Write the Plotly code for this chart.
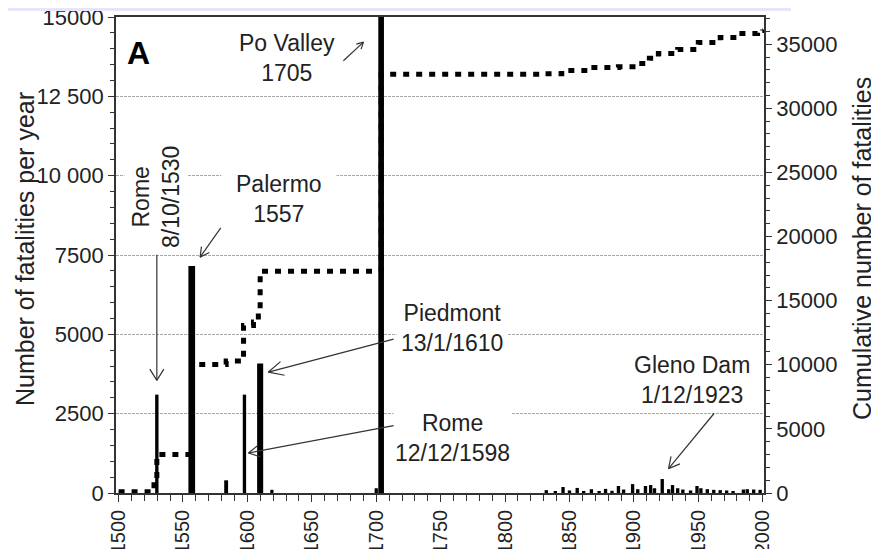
import math
import plotly.graph_objects as go

# ---------------- data ----------------
# annual fatalities, main events (left axis)
event_years = [1529.7, 1556.8, 1583.5, 1597.7, 1609.9, 1619, 1700, 1703.8]
event_values = [3100, 7150, 400, 3100, 4080, 100, 150, 15400]

# annual fatalities, 19th-20th century (left axis)
late_years = [1832, 1839, 1845, 1850, 1856, 1861, 1867, 1873, 1878, 1883, 1888,
              1892, 1899, 1903, 1909, 1913, 1916, 1922, 1927, 1930, 1934, 1938,
              1944, 1949, 1952, 1957, 1962, 1967, 1972, 1977, 1985, 1988, 1993, 1998]
late_values = [90, 60, 190, 80, 160, 60, 120, 50, 130, 70, 220,
               110, 280, 120, 220, 250, 150, 440, 120, 250, 150, 110,
               80, 220, 150, 120, 100, 90, 80, 60, 110, 120, 110, 100]

# cumulative number of fatalities (right axis)
cum_years = [1500, 1526, 1527.5, 1529.7, 1556.8, 1583.5, 1597, 1604.7, 1608.5,
             1609.9, 1703.8, 1830, 1844, 1865, 1888, 1903, 1912, 1919, 1934,
             1950, 1967, 1981, 1996, 2000]
cum_values = [100, 100, 900, 3000, 10030, 10290, 13070, 13330, 14000,
              17300, 32650, 32700, 32950, 33180, 33250, 33500, 33900, 34280, 34590,
              35130, 35520, 35830, 36070, 36150]

x_ticks = [1500, 1550, 1600, 1650, 1700, 1750, 1800, 1850, 1900, 1950, 2000]
y_ticks = [0, 2500, 5000, 7500, 10000, 12500, 15000]
y_ticktext = ["0", "2500", "5000", "7500", "10 000", "12 500", "15000"]
y2_ticks = [0, 5000, 10000, 15000, 20000, 25000, 30000, 35000]
y2_ticktext = ["0", "5000", "10000", "15000", "20000", "25000", "30000", "35000"]

# ---------------- styling ----------------
FONT = "Liberation Sans, Arial, sans-serif"
INK = "#222222"
AX = "#333333"
event_bar_widths = [2.6, 5.2, 3.0, 2.6, 4.7, 2.5, 2.5, 4.4]

# the page body has an 8px margin: figure placed at (8, 8) in the window
OFF = 8
W, H = 879 - OFF, 549 - OFF
PL, PR, PT, PB = 116, 764, 17, 493          # plot area in window pixels
ML, MR, MT, MB = PL - OFF, 879 - PR, PT - OFF, 549 - PB
PW, PH = PR - PL, PB - PT


def px(xp):
    return (xp - PL) / PW


def py(yp):
    return (PB - yp) / PH


fig = go.Figure()

fig.add_trace(go.Bar(x=event_years, y=event_values, width=event_bar_widths,
                     marker=dict(color="black", line=dict(width=0)),
                     yaxis="y", showlegend=False))
fig.add_trace(go.Bar(x=late_years, y=late_values, width=[2.6] * len(late_years),
                     marker=dict(color="black", line=dict(width=0)),
                     yaxis="y", showlegend=False))
fig.add_trace(go.Scatter(x=cum_years, y=cum_values, mode="lines", yaxis="y2",
                         line=dict(color="black", width=5, dash="6px,7px", shape="hv"),
                         showlegend=False))

anns = []


def text_ann(xp, yp, text, angle=0, bg="white", pad=2, size=23):
    anns.append(dict(x=px(xp), y=py(yp), xref="paper", yref="paper", text=text,
                     showarrow=False, xanchor="center", yanchor="middle",
                     textangle=angle, bgcolor=bg, borderpad=pad,
                     font=dict(family=FONT, size=size, color=INK)))


def arrow(tx, ty, dx, dy, head, ang=28):
    base = dict(x=tx, y=ty, xref="x", yref="y", text="", showarrow=True,
                arrowhead=0, arrowwidth=1.2, arrowcolor="#333333", standoff=0)
    anns.append(dict(base, ax=dx, ay=dy))
    a0 = math.atan2(dy, dx)
    for s in (1, -1):
        a = a0 + s * math.radians(ang)
        anns.append(dict(base, ax=head * math.cos(a), ay=head * math.sin(a)))


text_ann(287, 58, "Po Valley<br>1705", bg="rgba(0,0,0,0)")
text_ann(156, 197, "Rome<br>8/10/1530", angle=-90, pad=3)
text_ann(279, 199, "Palermo<br>1557", pad=14)
text_ann(452, 328, "Piedmont<br>13/1/1610", pad=4)
text_ann(452, 438, "Rome<br>12/12/1598", pad=1)
text_ann(692, 380, "Gleno Dam<br>1/12/1923", bg="rgba(0,0,0,0)")
anns.append(dict(x=px(138), y=py(53), xref="paper", yref="paper", text="<b>A</b>",
                 showarrow=False, xanchor="center", yanchor="middle",
                 font=dict(family=FONT, size=32, color="black")))

arrow(1690.1, 14207, -21.6, 20, 9)
arrow(1529.7, 3550, 0, -127, 15, 32)
arrow(1563.3, 7434, 21.7, -30.7, 12)
arrow(1616.3, 3811, 126.7, -33.4, 18, 26)
arrow(1600.8, 1260, 146.7, -27.7, 14)
arrow(1926.9, 769, 46.7, -56.6, 14)

# axis titles
anns.append(dict(x=px(25), y=py(249), xref="paper", yref="paper",
                 text="Number of fatalities per year", textangle=-90, showarrow=False,
                 xanchor="center", yanchor="middle",
                 font=dict(family=FONT, size=25, color=INK)))
anns.append(dict(x=px(862), y=py(249), xref="paper", yref="paper",
                 text="Cumulative number of fatalities", textangle=-90, showarrow=False,
                 xanchor="center", yanchor="middle",
                 font=dict(family=FONT, size=25, color=INK)))

tickfont = dict(family=FONT, size=22, color=INK)
xtickfont = dict(family=FONT, size=20, color=INK)

fig.update_layout(
    width=W, height=H,
    margin=dict(l=ML, r=MR, t=MT, b=MB, pad=0, autoexpand=False),
    paper_bgcolor="white", plot_bgcolor="white",
    barmode="overlay",
    annotations=anns,
    shapes=[dict(type="rect", xref="paper", yref="paper",
                 x0=px(OFF), x1=px(791), y0=py(11), y1=py(OFF),
                 fillcolor="#e6e6fa", line=dict(width=0), layer="above")],
    xaxis=dict(range=[1498, 2001], tickmode="array", tickvals=x_ticks,
               tickangle=-90, tickfont=xtickfont, ticks="outside", ticklen=7,
               tickwidth=1.3, tickcolor=AX, showline=True, linecolor=AX,
               linewidth=1.6, mirror=True, showgrid=False, zeroline=False,
               automargin=False, ticklabeloverflow="allow",
               minor=dict(tickvals=list(range(1500, 2001, 10)), ticks="outside",
                          ticklen=6, tickwidth=1.2, tickcolor=AX, showgrid=False)),
    yaxis=dict(range=[0, 15000], tickmode="array", tickvals=y_ticks,
               ticktext=y_ticktext, tickfont=tickfont, ticks="outside", ticklen=6,
               tickwidth=1.3, tickcolor=AX, showline=True, linecolor=AX,
               linewidth=1.6, showgrid=True, gridcolor="#a8a8a8", gridwidth=1,
               griddash="3px,1px", zeroline=False, automargin=False,
               ticklabeloverflow="allow",
               minor=dict(tickvals=list(range(0, 15001, 500)), ticks="outside",
                          ticklen=4, tickwidth=1.1, tickcolor=AX, showgrid=False)),
    yaxis2=dict(range=[0, 37120], overlaying="y", side="right", tickmode="array",
                tickvals=y2_ticks, ticktext=y2_ticktext, tickfont=tickfont,
                ticks="outside", ticklen=6, tickwidth=1.3, tickcolor=AX,
                showline=True, linecolor=AX, linewidth=1.6, showgrid=False,
                zeroline=False, automargin=False, ticklabeloverflow="allow",
                minor=dict(tickvals=list(range(0, 37001, 1000)), ticks="outside",
                           ticklen=4, tickwidth=1.1, tickcolor=AX, showgrid=False)),
)

fig.write_html("out.html")
